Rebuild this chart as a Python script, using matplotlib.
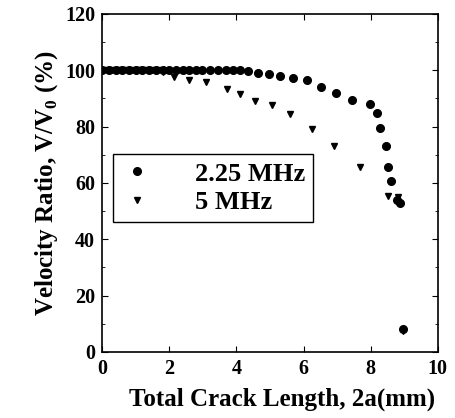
import numpy as np
import matplotlib
matplotlib.use("Agg")
from matplotlib import pyplot as plt

plt.rcParams['font.family'] = 'Liberation Serif'
plt.rcParams['font.weight'] = 'bold'
plt.rcParams['mathtext.fontset'] = 'custom'
plt.rcParams['mathtext.rm'] = 'Liberation Serif:bold'
plt.rcParams['mathtext.bf'] = 'Liberation Serif:bold'

# 2.25 MHz
x_225 = [0, 0.2, 0.4, 0.6, 0.8, 1.0, 1.2, 1.4, 1.6, 1.8, 2.0, 2.2, 2.4, 2.6, 2.8,
         2.97, 3.21, 3.45, 3.70, 3.90, 4.11, 4.35, 4.64, 4.97, 5.30, 5.68, 6.10,
         6.52, 6.98, 7.45, 7.98, 8.19, 8.29, 8.45, 8.53, 8.62, 8.79, 8.87, 8.97]
y_225 = [100, 100, 100, 100, 100, 100, 100, 100, 100, 100, 100, 100, 100, 100, 100,
         100, 100, 100, 100, 100, 100, 99.6, 99.1, 98.7, 98.1, 97.3, 96.4,
         94.1, 92.0, 89.3, 87.9, 84.7, 79.4, 73.0, 65.8, 60.8, 53.8, 52.7, 8.0]

# 5 MHz
x_5 = [0, 0.15, 0.3, 0.45, 0.6, 0.75, 0.9, 1.05, 1.2, 1.35, 1.5, 1.65, 1.8,
       2.14, 2.60, 3.10, 3.71, 4.11, 4.55, 5.05, 5.60, 6.24, 6.90, 7.68, 8.52, 8.81, 8.97]
y_5 = [100, 100, 100, 100, 100, 100, 100, 100, 100, 100, 100, 100, 99.5,
       97.5, 96.5, 95.8, 93.4, 91.7, 89.1, 87.5, 84.4, 79.1, 73.0, 65.5, 55.5, 55.1, 7.5]

fig = plt.figure(figsize=(4.56, 4.18), dpi=100)
ax = fig.add_axes([0.224, 0.158, 0.736, 0.809])

ax.plot(x_225, y_225, 'o', color='black', markersize=5.5, label='2.25 MHz')
ax.plot(x_5, y_5, 'v', color='black', markersize=5, label='5 MHz')

ax.set_xlim(0, 10)
ax.set_ylim(0, 120)
ax.set_xticks(np.arange(0, 11, 2))
ax.set_yticks(np.arange(0, 121, 20))
ax.set_yticks(np.arange(0, 121, 10), minor=True)
ax.tick_params(which='both', direction='in', top=True, right=True, labelsize=14.5)
ax.tick_params(which='major', length=4, pad=5)
ax.tick_params(which='minor', length=2)
for s in ax.spines.values():
    s.set_linewidth(1.2)

ax.set_xlabel('Total Crack Length, 2a(mm)', fontsize=18, fontweight='bold')
ax.xaxis.set_label_coords(0.535, -0.105)
ax.set_ylabel(r'Velocity Ratio, V/V$_\mathrm{0}$ (%)', fontsize=18, fontweight='bold', labelpad=4)

leg = ax.legend(loc='upper left', bbox_to_anchor=(0.033, 0.585), fontsize=19,
                fancybox=False, edgecolor='black', framealpha=1,
                handlelength=1.2, handletextpad=1.6, borderpad=0.3, labelspacing=0.2,
                borderaxespad=0)
leg.get_frame().set_linewidth(1.0)

plt.savefig('out.png', dpi=100)
